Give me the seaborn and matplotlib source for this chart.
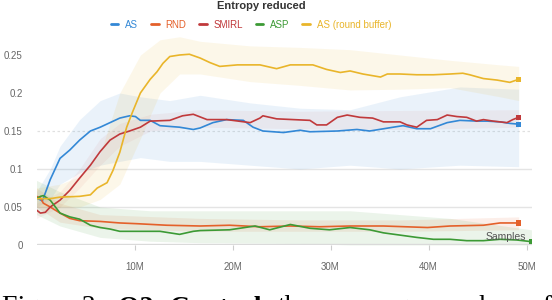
import numpy as np
import pandas as pd
import matplotlib
matplotlib.use("Agg")
import matplotlib.pyplot as plt
from matplotlib.lines import Line2D
import seaborn as sns

# ---------------- data (x in millions of samples) ----------------
series_names = ["AS", "RND", "SMIRL", "ASP", "AS (round buffer)"]
colors = ["#3388d6", "#e4602a", "#c0393b", "#3c9a35", "#e9b52a"]

as_x = [0, 0.6, 1.4, 1.9, 2.4, 3.4, 4.4, 5.5, 6.5, 7.5, 8.5, 9.5, 10.1, 10.6, 11.6,
        12.6, 14.6, 16.0, 16.7, 18.0, 19.4, 21.1, 22.1, 23.1, 25.2, 26.9, 27.9, 30.7,
        32.7, 34.0, 36.4, 37.4, 38.8, 40.2, 41.9, 43.2, 45.0, 46.0, 47.3, 48.3, 49.2]
as_y = [0.062, 0.058, 0.086, 0.100, 0.114, 0.125, 0.138, 0.150, 0.155, 0.161, 0.167,
        0.170, 0.169, 0.164, 0.164, 0.157, 0.155, 0.152, 0.154, 0.161, 0.165, 0.164,
        0.155, 0.150, 0.148, 0.151, 0.149, 0.150, 0.152, 0.150, 0.155, 0.157, 0.153,
        0.153, 0.161, 0.164, 0.163, 0.163, 0.162, 0.160, 0.159]

smirl_x = [0, 0.4, 0.9, 1.4, 2.4, 3.4, 4.4, 5.5, 6.5, 7.5, 8.5, 9.5, 10.6, 11.6, 13.6,
           14.9, 16.0, 17.4, 19.4, 21.8, 22.8, 23.1, 24.5, 26.2, 27.9, 28.6, 29.6, 30.7,
           31.7, 33.0, 34.3, 35.4, 37.1, 37.8, 38.8, 39.8, 40.9, 41.9, 42.9, 43.9, 44.9,
           45.6, 46.6, 48.0, 48.6, 49.2]
smirl_y = [0.046, 0.042, 0.043, 0.050, 0.059, 0.072, 0.088, 0.105, 0.123, 0.138, 0.146,
           0.150, 0.155, 0.163, 0.164, 0.170, 0.172, 0.165, 0.165, 0.161, 0.167, 0.170,
           0.166, 0.165, 0.164, 0.158, 0.158, 0.168, 0.171, 0.168, 0.167, 0.162, 0.162,
           0.158, 0.155, 0.164, 0.165, 0.171, 0.169, 0.168, 0.163, 0.165, 0.163, 0.161,
           0.165, 0.168]

asrb_x = [0, 1.4, 2.4, 4.4, 5.5, 6.2, 7.2, 7.8, 8.5, 9.2, 9.8, 10.6, 11.6, 12.3, 12.9,
          13.6, 14.6, 15.6, 16.7, 17.7, 18.7, 20.5, 22.8, 24.5, 25.9, 28.2, 29.6, 31.0,
          32.0, 33.3, 35.1, 35.8, 37.1, 38.8, 40.5, 42.2, 43.5, 44.2, 45.6, 47.0, 48.3, 49.2]
asrb_y = [0.061, 0.061, 0.063, 0.064, 0.066, 0.075, 0.082, 0.098, 0.122, 0.155, 0.175,
          0.200, 0.218, 0.228, 0.239, 0.248, 0.250, 0.251, 0.246, 0.240, 0.235, 0.237,
          0.237, 0.232, 0.237, 0.237, 0.231, 0.227, 0.229, 0.225, 0.221, 0.225, 0.225,
          0.224, 0.224, 0.225, 0.226, 0.224, 0.219, 0.217, 0.214, 0.218]

rnd_x = [0, 0.4, 0.7, 1.4, 2.4, 3.4, 4.4, 6.5, 8.5, 10.3, 13.3, 16.7, 19.7, 22.8, 25.9,
         28.9, 32.0, 35.4, 39.9, 42.2, 45.6, 47.3, 49.2]
rnd_y = [0.064, 0.062, 0.055, 0.050, 0.042, 0.035, 0.032, 0.031, 0.029, 0.028, 0.026,
         0.025, 0.026, 0.024, 0.025, 0.024, 0.025, 0.025, 0.023, 0.025, 0.026, 0.029, 0.029]

asp_x = [0, 0.4, 0.7, 1.4, 2.4, 3.4, 4.4, 5.5, 6.5, 7.5, 8.5, 10.6, 12.6, 14.6, 16.0,
         16.7, 19.7, 22.3, 23.8, 25.9, 27.9, 29.9, 32.0, 34.0, 35.4, 37.1, 38.8, 40.5,
         42.2, 43.9, 45.6, 47.3, 49.0, 50.5]
asp_y = [0.061, 0.064, 0.065, 0.059, 0.042, 0.037, 0.034, 0.026, 0.023, 0.021, 0.018,
         0.018, 0.018, 0.014, 0.018, 0.019, 0.020, 0.025, 0.020, 0.027, 0.022, 0.020,
         0.023, 0.020, 0.016, 0.013, 0.010, 0.0075, 0.0075, 0.0057, 0.0057, 0.0075,
         0.0066, 0.0044]

# shaded bands (lower / upper)
as_bx = [0, 1.4, 2.4, 4.4, 6.5, 8.5, 10.6, 13.6, 16.7, 21.8, 26.9, 32.0, 37.1, 43.2, 49.2]
as_lo = [0.05, 0.06, 0.08, 0.095, 0.105, 0.11, 0.115, 0.11, 0.11, 0.105, 0.10, 0.105, 0.10, 0.105, 0.103]
as_hi = [0.07, 0.10, 0.13, 0.165, 0.19, 0.20, 0.195, 0.19, 0.197, 0.187, 0.18, 0.178, 0.195, 0.208, 0.205]

asrb_bx = [0, 2.4, 4.4, 6.5, 8.5, 10.6, 12.6, 14.6, 16.7, 21.8, 26.9, 32.0, 37.1, 42.2, 47.3, 49.2]
asrb_lo = [0.05, 0.05, 0.05, 0.06, 0.08, 0.14, 0.20, 0.225, 0.225, 0.215, 0.21, 0.204, 0.205, 0.207, 0.195, 0.19]
asrb_hi = [0.075, 0.08, 0.09, 0.12, 0.20, 0.25, 0.27, 0.274, 0.268, 0.262, 0.26, 0.257, 0.25, 0.243, 0.237, 0.235]

smirl_bx = [0, 2.4, 4.4, 6.5, 8.5, 11.6, 16.7, 26.9, 37.1, 49.2]
smirl_lo = [0.035, 0.05, 0.075, 0.105, 0.13, 0.15, 0.155, 0.153, 0.152, 0.155]
smirl_hi = [0.055, 0.07, 0.10, 0.14, 0.16, 0.172, 0.178, 0.176, 0.177, 0.178]

rnd_bx = [0, 2.4, 6.5, 16.7, 26.9, 37.1, 49.2]
rnd_lo = [0.05, 0.03, 0.022, 0.018, 0.018, 0.018, 0.02]
rnd_hi = [0.075, 0.055, 0.04, 0.035, 0.033, 0.033, 0.037]

asp_bx = [0, 2.4, 6.5, 11.6, 16.7, 26.9, 32.0, 42.2, 50.5]
asp_lo = [0.04, 0.025, 0.01, 0.005, 0.003, 0.002, 0.0, 0.0, 0.0]
asp_hi = [0.085, 0.07, 0.05, 0.045, 0.045, 0.045, 0.045, 0.035, 0.02]

y_ticks = [0, 0.05, 0.1, 0.15, 0.2, 0.25]
y_tick_labels = ["0", "0.05", "0.1", "0.15", "0.2", "0.25"]
x_ticks = [10, 20, 30, 40, 50]
x_tick_labels = ["10M", "20M", "30M", "40M", "50M"]

# ---------------- figure ----------------
sns.set_theme(style="white")
plt.rcParams["font.family"] = ["Liberation Sans", "DejaVu Sans"]

W, H = 552, 300
fig = plt.figure(figsize=(W / 100, H / 100), dpi=100)
ax = fig.add_axes([36.5 / W, 1 - 245 / H, 495.5 / W, 0.28 * 760 / H])
ax.set_xlim(0, 50.56)
ax.set_ylim(0, 0.28)

lines = {
    "AS": (as_x, as_y, as_bx, as_lo, as_hi),
    "RND": (rnd_x, rnd_y, rnd_bx, rnd_lo, rnd_hi),
    "SMIRL": (smirl_x, smirl_y, smirl_bx, smirl_lo, smirl_hi),
    "ASP": (asp_x, asp_y, asp_bx, asp_lo, asp_hi),
    "AS (round buffer)": (asrb_x, asrb_y, asrb_bx, asrb_lo, asrb_hi),
}
palette = dict(zip(series_names, colors))
band_alpha = {"AS": 0.1, "RND": 0.1, "SMIRL": 0.06, "ASP": 0.1, "AS (round buffer)": 0.1}

# gridlines
for v in [0.05, 0.1]:
    ax.axhline(v, color="#e4e4e4", lw=1.0, zorder=0)
ax.axhline(0.15, color="#e0e0e0", lw=0.9, ls=(0, (2, 2)), zorder=0)

# bands
for name in series_names:
    _, _, bx, lo, hi = lines[name]
    ax.fill_between(bx, lo, hi, color=palette[name], alpha=band_alpha[name], lw=0, zorder=1)

ax.axhline(0, color="#dadada", lw=2.4, zorder=2)

frames = []
for name in series_names:
    x, y = lines[name][0], lines[name][1]
    frames.append(pd.DataFrame({"x": x, "y": y, "series": name}))
df = pd.concat(frames, ignore_index=True)

sns.lineplot(data=df, x="x", y="y", hue="series", palette=palette, estimator=None,
             sort=False, lw=1.2, legend=False, ax=ax, zorder=3)

ends = df.groupby("series", sort=False).tail(1)
sns.scatterplot(data=ends, x="x", y="y", hue="series", palette=palette, marker="s",
                s=14, linewidth=0, legend=False, ax=ax, zorder=4)

for s in ax.spines.values():
    s.set_visible(False)
ax.set_xlabel("")
ax.set_ylabel("")
ax.set_yticks(y_ticks)
ax.set_yticklabels(y_tick_labels)
ax.set_xticks(x_ticks)
ax.set_xticklabels(x_tick_labels)
ax.tick_params(axis="y", left=False, length=0, pad=10, labelsize=7, labelcolor="#666666")
ax.tick_params(axis="x", bottom=True, length=3.5, width=0.8, color="#cccccc", pad=9,
               labelsize=7, labelcolor="#666666")

fig.text(526 / W, 1 - 236.5 / H, "Samples", ha="right", va="center", fontsize=7.5,
         color="#555555")

fig.text(261 / W, 1 - 6 / H, "Entropy reduced", ha="center", va="center", fontsize=8,
         weight="bold", color="#333333")

handles = [Line2D([0], [0], color=palette[n], lw=2) for n in series_names]
fig.legend(handles, series_names, loc="center", bbox_to_anchor=(251 / W, 1 - 24.5 / H),
           ncol=5, frameon=False, fontsize=7, handlelength=0.8, handletextpad=0.7,
           columnspacing=1.3, labelcolor="linecolor")

# cropped caption below the chart
cap_y = (H - 314.5) / H
serif = ["Liberation Serif", "DejaVu Serif"]
fig.text(2 / W, cap_y, "Figure 3:", family=serif, fontsize=20, va="baseline", color="black")
fig.text(118 / W, cap_y, "Q2: Control", family=serif, fontsize=20, weight="bold",
         va="baseline", color="black")
fig.text(278 / W, cap_y, "the", family=serif, fontsize=20, va="baseline", color="black")
fig.text(335 / W, cap_y, "average", family=serif, fontsize=20, va="baseline", color="black")
fig.text(430 / W, cap_y, "number", family=serif, fontsize=20, va="baseline", color="black")
fig.text(529 / W, cap_y, "of", family=serif, fontsize=20, va="baseline", color="black")

fig.savefig("out.png", dpi=100)
